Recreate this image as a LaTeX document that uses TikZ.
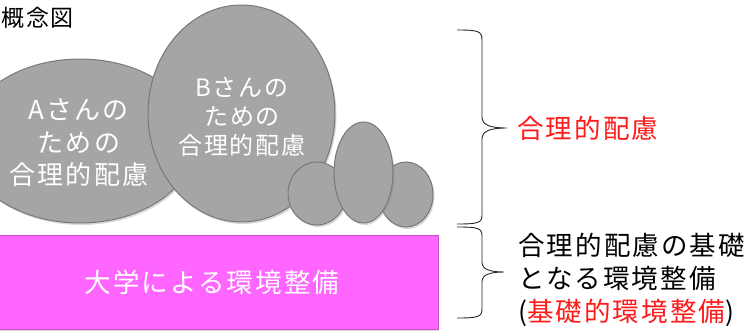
\documentclass[tikz,border=0pt]{standalone}
\usepackage{fontspec}
\setmainfont{Noto Sans CJK JP}[LetterSpace=8]
\usetikzlibrary{shapes.geometric,shadows}
\definecolor{blobfill}{HTML}{A5A5A5}
\definecolor{blobline}{HTML}{787878}
\definecolor{basefill}{HTML}{FF66FF}
\definecolor{baseline}{HTML}{C94FC9}
\definecolor{accent}{HTML}{FF1A1A}
\tikzset{
  blob/.style={ellipse, draw=blobline, line width=1pt, fill=blobfill, inner sep=0pt,
    drop shadow={opacity=0.3, shadow xshift=1.5pt, shadow yshift=-2pt}},
  blobtext/.style={text=white, align=center, inner sep=0pt},
  sidetext/.style={anchor=west, align=left, inner sep=0pt, font=\fontsize{26.5}{33}\selectfont},
  bracepath/.style={draw=black!85, line width=0.9pt},
}
\begin{document}
\begin{tikzpicture}[x=1pt,y=-1pt]
\useasboundingbox (0,0) rectangle (750,332);
\clip (0,0) rectangle (750,332);
\fill[white] (0,0) rectangle (750,332);
\node[anchor=west, inner sep=0pt, font=\fontsize{23}{27}\selectfont] (title) at (1,18) {概念図};
\node[blob, minimum width=232pt, minimum height=164pt] (A) at (80,141) {};
\node[blob, minimum width=187pt, minimum height=217pt] (B) at (241.5,113.5) {};
\node[blob, minimum width=58pt, minimum height=63pt] (s1) at (317,193.5) {};
\node[blob, minimum width=54pt, minimum height=65pt] (s3) at (406,194.5) {};
\node[blob, minimum width=59pt, minimum height=101pt] (s2) at (363.5,172.5) {};
\node[blobtext, font=\fontsize{26}{32.5}\selectfont] (Atext) at (79,143) {Aさんの\\ための\\合理的配慮};
\node[blobtext, font=\fontsize{24}{29}\selectfont] (Btext) at (242,117) {Bさんの\\ための\\合理的配慮};
\node[draw=baseline, fill=basefill, line width=1pt, minimum width=452pt, minimum height=94pt,
  drop shadow={opacity=0.25, shadow xshift=1pt, shadow yshift=-1.5pt},
  text=white, font=\fontsize{26.5}{32}\selectfont] (base) at (212,282) {大学による環境整備};
% braces
\coordinate (u1) at (457,30);
\coordinate (ut) at (507,128);
\coordinate (u2) at (457,224);
\draw[bracepath] (u1) .. controls (478,30) and (482,31) .. (482,40) -- (482,117)
  .. controls (482,125) and (490,128) .. (ut)
  .. controls (490,128) and (482,131) .. (482,139) -- (482,215)
  .. controls (482,223) and (478,224) .. (u2);
\coordinate (l1) at (457,227);
\coordinate (lt) at (504,272);
\coordinate (l2) at (457,318);
\draw[bracepath] (l1) .. controls (478,227) and (482,228) .. (482,236) -- (482,262)
  .. controls (482,269) and (489,272) .. (lt)
  .. controls (489,272) and (482,275) .. (482,282) -- (482,309)
  .. controls (482,317) and (478,318) .. (l2);
\node[sidetext, text=accent] (rl) at (517,128) {合理的配慮};
\node[sidetext] (bl) at (518,280) {合理的配慮の基礎\\となる環境整備\\(\textcolor{accent}{基礎的環境整備})};
\end{tikzpicture}
\end{document}
